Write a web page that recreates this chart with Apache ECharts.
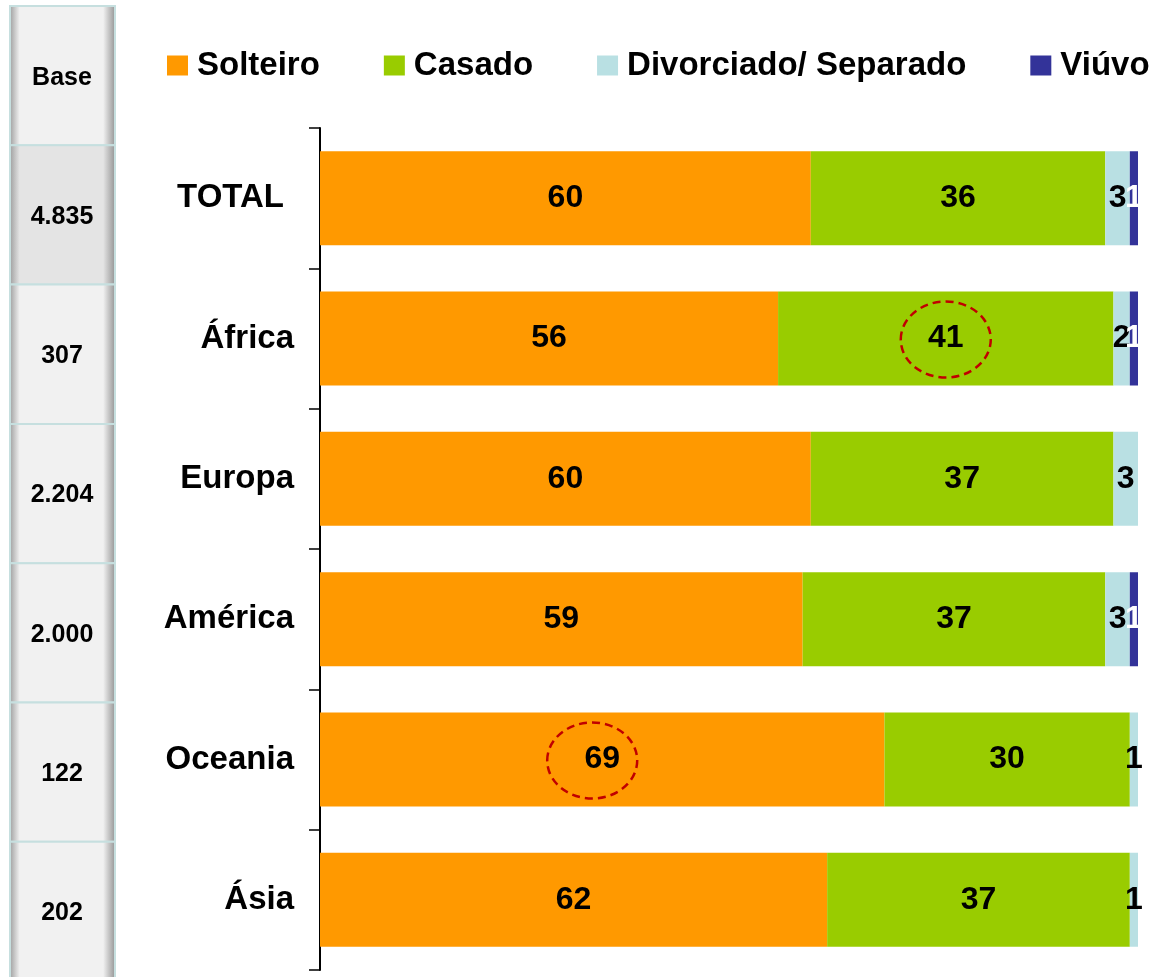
<!DOCTYPE html>
<html>
<head>
<meta charset="utf-8">
<script src="https://cdn.jsdelivr.net/npm/echarts@6/dist/echarts.min.js"></script>
<style>
html, body { margin: 0; padding: 0; background: #fff; }
#main { width: 1152px; height: 977px; }
</style>
</head>
<body>
<div id="main"></div>
<script>
var categories = ['TOTAL', 'África', 'Europa', 'América', 'Oceania', 'Ásia'];
var baseValues = ['4.835', '307', '2.204', '2.000', '122', '202'];
var solteiro = [60, 56, 60, 59, 69, 62];
var casado = [36, 41, 37, 37, 30, 37];
var divorciado = [3, 2, 3, 3, 1, 1];
var viuvo = [1, 1, null, 1, null, null];
// [series index, category index] of the values circled in the picture
var circled = [[1, 1], [0, 4]];

var font = '"Liberation Sans", Arial, sans-serif';
var chart = echarts.init(document.getElementById('main'));

function barSeries(name, data, color, labelColor) {
	return {
		name: name,
		type: 'bar',
		stack: 'total',
		barCategoryGap: '33%',
		data: data,
		itemStyle: {color: color},
		label: {
			show: true,
			position: 'inside',
			color: labelColor,
			fontSize: 32,
			fontWeight: 'bold',
			fontFamily: font,
			formatter: function (p) { return p.value == null ? '' : p.value; }
		}
	};
}

// left "Base" column
var baseGraphics = [];
var boxTop = 6, boxH = 139.3;
['Base'].concat(baseValues).forEach(function (txt, i) {
	var mid = i === 1 ? '#e4e4e4' : '#f1f1f1';
	baseGraphics.push({
		type: 'rect',
		shape: {x: 10, y: boxTop + i * boxH, width: 105, height: boxH},
		style: {
			fill: new echarts.graphic.LinearGradient(0, 0, 1, 0, [
				{offset: 0, color: '#999'},
				{offset: 0.1, color: mid},
				{offset: 0.88, color: mid},
				{offset: 1, color: '#8f8f8f'}
			]),
			stroke: '#c6dfdf',
			lineWidth: 2
		}
	});
	baseGraphics.push({
		type: 'text',
		x: 62, y: boxTop + i * boxH + boxH / 2 + 2,
		style: {
			text: txt, fill: '#000', font: 'bold 25px ' + font,
			align: 'center', verticalAlign: 'middle'
		}
	});
});

chart.setOption({
	animation: false,
	legend: {
		left: 167,
		top: 49,
		width: 1400,
		padding: 0,
		icon: 'rect',
		itemWidth: 21,
		itemHeight: 20,
		itemGap: 64,
		textStyle: {fontSize: 33, fontWeight: 'bold', fontFamily: font, color: '#000', padding: [0, 0, 0, 4]},
		data: ['Solteiro', 'Casado', 'Divorciado/ Separado', 'Viúvo']
	},
	grid: {left: 320, right: 14, top: 128, bottom: 7},
	xAxis: {type: 'value', min: 0, max: 100, show: false},
	yAxis: {
		type: 'category',
		inverse: true,
		data: categories,
		axisLine: {show: true, lineStyle: {color: '#000', width: 2}},
		axisTick: {show: true, length: 11, lineStyle: {color: '#000', width: 1.5}},
		axisLabel: {
			fontSize: 33, fontWeight: 'bold', fontFamily: font, color: '#000', margin: 26,
			formatter: function (v) { return v === 'TOTAL' ? '{t|' + v + '}' : v; },
			rich: {t: {fontSize: 33, fontWeight: 'bold', fontFamily: font, color: '#000', padding: [0, 10, 0, 0]}}
		}
	},
	graphic: baseGraphics,
	series: [
		barSeries('Solteiro', solteiro, '#FF9900', '#000'),
		barSeries('Casado', casado, '#99CC00', '#000'),
		barSeries('Divorciado/ Separado', divorciado, '#B9E0E3', '#000'),
		barSeries('Viúvo', viuvo, '#333399', '#fff')
	]
});

// dashed circles around highlighted values, placed from the data
var allSeries = [solteiro, casado, divorciado, viuvo];
var circles = circled.map(function (c, k) {
	var s = c[0], i = c[1], start = 0;
	for (var j = 0; j < s; j++) start += allSeries[j][i] || 0;
	var pt = chart.convertToPixel({gridIndex: 0}, [start + allSeries[s][i] / 2, categories[i]]);
	return {
		type: 'ellipse',
		id: 'circle' + k,
		shape: {cx: pt[0] - (s === 0 ? 10 : 0), cy: pt[1] + 1, rx: 45, ry: 38},
		style: {fill: 'none', stroke: '#C00000', lineWidth: 2.5, lineDash: [8, 5]},
		z: 100
	};
});
chart.setOption({graphic: baseGraphics.concat(circles)});
</script>
</body>
</html>
